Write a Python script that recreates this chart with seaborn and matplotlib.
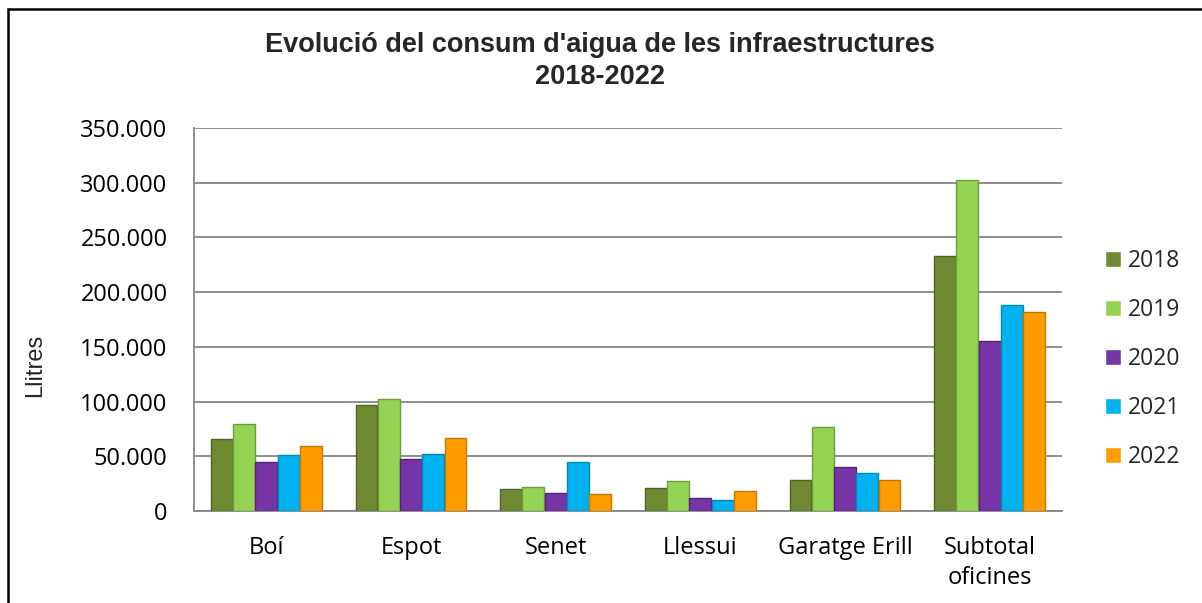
import matplotlib
matplotlib.use("Agg")
import matplotlib.pyplot as plt
import matplotlib.ticker as mticker
from matplotlib.patches import Rectangle
import seaborn as sns
import pandas as pd

categories = ["Boí", "Espot", "Senet", "Llessui", "Garatge Erill", "Subtotal\noficines"]
years = ["2018", "2019", "2020", "2021", "2022"]
v2018 = [65500, 96500, 20000, 21000, 28000, 233000]
v2019 = [79500, 102500, 22000, 27500, 76500, 302500]
v2020 = [45000, 47500, 16500, 12000, 40500, 155000]
v2021 = [51000, 52500, 44500, 10000, 35000, 188500]
v2022 = [59500, 66500, 15500, 18000, 28000, 182000]
yticks = [0, 50000, 100000, 150000, 200000, 250000, 300000, 350000]

colors = ["#6E8B34", "#94D254", "#7634A6", "#00B3F0", "#FF9D00"]
edges = ["#4F6228", "#6E9E3A", "#55247A", "#0088B8", "#C77800"]

rows = []
for y, vals in zip(years, [v2018, v2019, v2020, v2021, v2022]):
    for c, v in zip(categories, vals):
        rows.append({"cat": c, "year": y, "val": v})
df = pd.DataFrame(rows)

sns.set_theme(style="white")
plt.rcParams["font.family"] = ["Open Sans", "DejaVu Sans"]

fig = plt.figure(figsize=(12.02, 6.03), dpi=100)
ax = fig.add_axes([194/1202, 1-511/603, (1062-194)/1202, (511-128)/603])

sns.barplot(data=df, x="cat", y="val", hue="year", palette=colors, ax=ax,
            width=0.77, gap=0.02, saturation=1, legend=True, zorder=3)

for cont, ec in zip(ax.containers, edges):
    for p in cont:
        p.set_edgecolor(ec)
        p.set_linewidth(1.0)

ax.set_ylim(0, 350000)
ax.set_yticks(yticks)
ax.yaxis.set_major_formatter(mticker.FuncFormatter(lambda v, p: f"{int(v):,}".replace(",", ".")))
ax.grid(axis="y", color="#868686", linewidth=1.3, zorder=0)
ax.set_axisbelow(True)
for s in ["top", "right"]:
    ax.spines[s].set_visible(False)
for s in ["left", "bottom"]:
    ax.spines[s].set_color("#868686")
    ax.spines[s].set_linewidth(1.3)
ax.tick_params(axis="y", length=0, pad=19, labelsize=17, colors="black")
ax.tick_params(axis="x", length=0, pad=18, labelsize=17, colors="black")
for lbl in ax.get_xticklabels():
    lbl.set_linespacing(1.35)
ax.set_xlabel("")
ax.set_ylabel("")

fig.text(35/1202, 1-365/603, "Llitres", rotation=90, ha="center", va="center",
         fontsize=17, family=["Liberation Sans", "DejaVu Sans"])
fig.text(600/1202, 1-61/603, "Evolució del consum d'aigua de les infraestructures\n2018-2022",
         ha="center", va="center", fontsize=19.5, fontweight="bold", linespacing=1.3,
         family=["Liberation Sans", "DejaVu Sans"])

handles, labels = ax.get_legend_handles_labels()
ax.legend(handles, labels, loc="center left", bbox_to_anchor=(1096/1202, 1-359/603),
          bbox_transform=fig.transFigure, frameon=False, fontsize=16.5,
          handlelength=0.7, handleheight=0.7, handletextpad=0.3, labelspacing=1.1,
          borderaxespad=0)

fig.patches.append(Rectangle((8/1202, -0.1), 1.2, 1 - 9/603 + 0.1, transform=fig.transFigure,
                             fill=False, edgecolor="black", linewidth=1.8))

fig.savefig("out.png", dpi=100)
